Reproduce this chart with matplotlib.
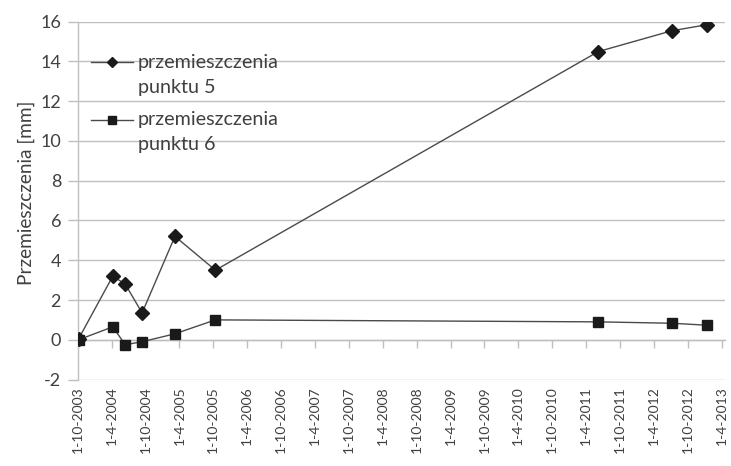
import matplotlib
matplotlib.use("Agg")
import matplotlib.pyplot as plt
from matplotlib.legend_handler import HandlerLine2D
from matplotlib.lines import Line2D
import numpy as np
import datetime as dt

plt.rcParams['font.family'] = ['Lato', 'DejaVu Sans']
plt.rcParams['axes.unicode_minus'] = False

dates = ["2003-10-06", "2004-04-07", "2004-06-13", "2004-09-12", "2005-03-08",
         "2005-10-12", "2011-06-07", "2012-07-09", "2013-01-13"]
punkt5 = [0.05, 3.2, 2.8, 1.35, 5.2, 3.5, 14.5, 15.55, 15.85]
punkt6 = [0.0, 0.65, -0.25, -0.1, 0.3, 1.0, 0.9, 0.83, 0.73]
label5 = "przemieszczenia\npunktu 5"
label6 = "przemieszczenia\npunktu 6"
ylabel = "Przemieszczenia [mm]"
yticks = [-2, 0, 2, 4, 6, 8, 10, 12, 14, 16]

x = [dt.datetime.strptime(d, "%Y-%m-%d") for d in dates]
tick_dates = []
y, m = 2003, 10
while (y, m) <= (2013, 4):
    tick_dates.append(dt.datetime(y, m, 1))
    m += 6
    if m > 12:
        m -= 12
        y += 1


class UpHandler(HandlerLine2D):
    def __init__(self, shift, **kw):
        super().__init__(**kw)
        self.shift = shift

    def create_artists(self, legend, orig_handle, xdescent, ydescent,
                       width, height, fontsize, trans):
        arts = super().create_artists(legend, orig_handle, xdescent, ydescent,
                                      width, height, fontsize, trans)
        for a in arts:
            if isinstance(a, Line2D):
                a.set_ydata(np.asarray(a.get_ydata(), dtype=float) + self.shift)
        return arts


fig = plt.figure(figsize=(7.31, 4.66), dpi=100)
ax = fig.add_axes([0.1063, 0.1856, 0.8857, 0.7678])

txt = "#404040"
grid = "#bfbfbf"
linec = "#4a4a4a"
mk = "#1a1a1a"

l5, = ax.plot(x, punkt5, color=linec, lw=1.0, marker="D", ms=7.6, mfc=mk, mec=mk,
              label=label5, zorder=4)
l6, = ax.plot(x, punkt6, color=linec, lw=1.0, marker="s", ms=7.8, mfc=mk, mec=mk,
              label=label6, zorder=4)

ax.set_ylim(-2, 16)
ax.set_yticks(yticks)
ax.set_xlim(tick_dates[0], dt.datetime(2013, 4, 20))
ax.set_xticks(tick_dates)
ax.set_xticklabels([f"{d.day}-{d.month}-{d.year}" for d in tick_dates],
                   rotation=90, fontsize=10, color=txt)
ax.tick_params(axis='x', length=0, pad=5)
ax.tick_params(axis='y', length=7, color=grid, width=1, labelsize=13,
               labelcolor=txt, pad=5)
ax.yaxis.grid(True, color=grid, lw=1)
ax.set_axisbelow(True)
for s in ["top", "right", "bottom"]:
    ax.spines[s].set_visible(False)
ax.spines["left"].set_color(grid)
ax.spines["left"].set_linewidth(1)

sec = ax.secondary_xaxis(0, transform=ax.transData)
sec.set_xticks(tick_dates)
sec.set_xticklabels([])
sec.tick_params(axis='x', length=6, color=grid, width=1, direction='out')
sec.spines["bottom"].set_color(grid)
sec.spines["bottom"].set_linewidth(1)

ax.set_ylabel(ylabel, fontsize=13.7, color=txt)
ax.yaxis.set_label_coords(-0.066, 0.521)

leg = ax.legend(loc="upper left", bbox_to_anchor=(0.021, 0.91), frameon=False,
                fontsize=14.2, handlelength=2.1, handletextpad=0.25,
                labelspacing=0.8, markerscale=0.7, labelcolor=txt,
                borderaxespad=0, borderpad=0,
                handler_map={l5: UpHandler(9), l6: UpHandler(9)})
for t in leg.get_texts():
    t.set_linespacing(1.55)

fig.savefig("out.png", dpi=100)
